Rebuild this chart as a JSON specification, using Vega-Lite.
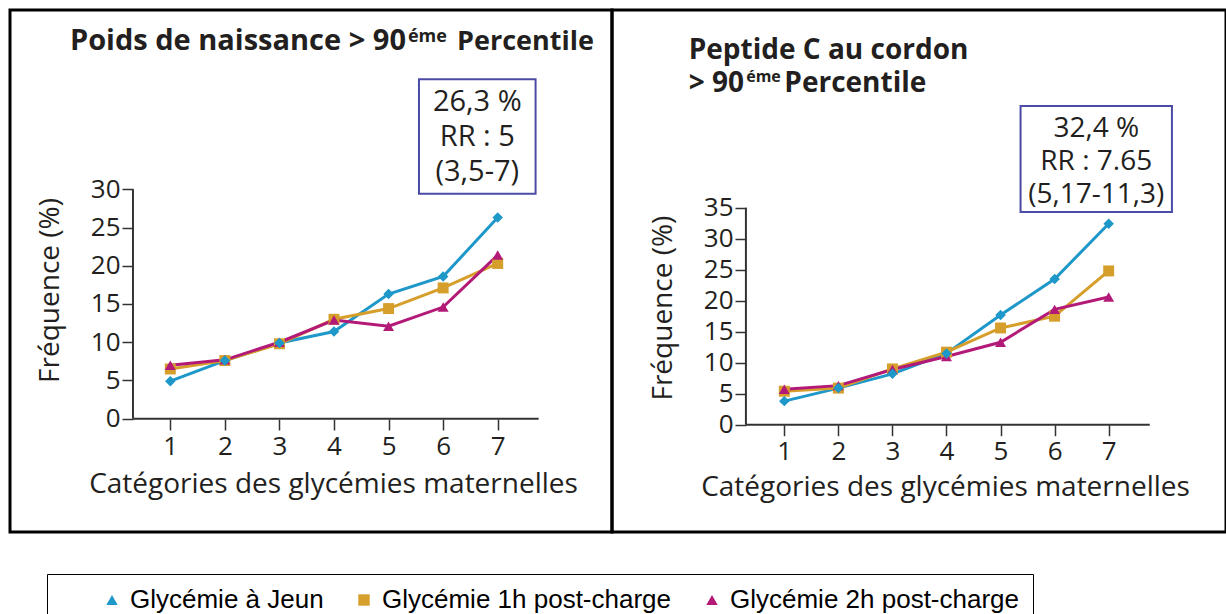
{
  "$schema": "https://vega.github.io/schema/vega-lite/v6.json",
  "padding": {"left": 8, "top": 8, "right": 0, "bottom": 0},
  "background": "white",
  "spacing": 0,
  "bounds": "flush",
  "config": {
    "font": "Open Sans",
    "view": {"stroke": "black", "strokeWidth": 3},
    "axis": {"grid": false, "domain": false, "tickColor": "#333333", "tickWidth": 1.5, "tickSize": 11, "labelFont": "Open Sans", "labelFontSize": 26, "labelColor": "#231f20", "titleFont": "Open Sans", "titleFontSize": 28, "titleFontWeight": "normal", "titleColor": "#231f20", "labelFlush": false, "labelOverlap": false},
    "legend": {"orient": "none", "legendX": 37, "legendY": 564, "direction": "horizontal", "titleOrient": "left", "titleFontSize": 1, "titlePadding": 39, "padding": 13, "strokeColor": "black", "labelFont": "Liberation Sans", "labelFontSize": 26, "labelColor": "black", "symbolSize": 130, "symbolStrokeWidth": 0, "symbolOpacity": 1, "columnPadding": 27, "labelOffset": 5, "labelLimit": 400}
  },
  "datasets": {
    "poids": [
      {"cat": 1, "serie": "Glycémie à Jeun", "freq": 4.9},
      {"cat": 2, "serie": "Glycémie à Jeun", "freq": 7.6},
      {"cat": 3, "serie": "Glycémie à Jeun", "freq": 9.9},
      {"cat": 4, "serie": "Glycémie à Jeun", "freq": 11.4},
      {"cat": 5, "serie": "Glycémie à Jeun", "freq": 16.3},
      {"cat": 6, "serie": "Glycémie à Jeun", "freq": 18.6},
      {"cat": 7, "serie": "Glycémie à Jeun", "freq": 26.3},
      {"cat": 1, "serie": "Glycémie 1h post-charge", "freq": 6.5},
      {"cat": 2, "serie": "Glycémie 1h post-charge", "freq": 7.6},
      {"cat": 3, "serie": "Glycémie 1h post-charge", "freq": 9.8},
      {"cat": 4, "serie": "Glycémie 1h post-charge", "freq": 13.0},
      {"cat": 5, "serie": "Glycémie 1h post-charge", "freq": 14.4},
      {"cat": 6, "serie": "Glycémie 1h post-charge", "freq": 17.1},
      {"cat": 7, "serie": "Glycémie 1h post-charge", "freq": 20.3},
      {"cat": 1, "serie": "Glycémie 2h post-charge", "freq": 7.0},
      {"cat": 2, "serie": "Glycémie 2h post-charge", "freq": 7.7},
      {"cat": 3, "serie": "Glycémie 2h post-charge", "freq": 10.0},
      {"cat": 4, "serie": "Glycémie 2h post-charge", "freq": 12.9},
      {"cat": 5, "serie": "Glycémie 2h post-charge", "freq": 12.1},
      {"cat": 6, "serie": "Glycémie 2h post-charge", "freq": 14.6},
      {"cat": 7, "serie": "Glycémie 2h post-charge", "freq": 21.4}
    ],
    "peptide": [
      {"cat": 1, "serie": "Glycémie à Jeun", "freq": 3.8},
      {"cat": 2, "serie": "Glycémie à Jeun", "freq": 5.9},
      {"cat": 3, "serie": "Glycémie à Jeun", "freq": 8.2},
      {"cat": 4, "serie": "Glycémie à Jeun", "freq": 11.5},
      {"cat": 5, "serie": "Glycémie à Jeun", "freq": 17.7},
      {"cat": 6, "serie": "Glycémie à Jeun", "freq": 23.5},
      {"cat": 7, "serie": "Glycémie à Jeun", "freq": 32.4},
      {"cat": 1, "serie": "Glycémie 1h post-charge", "freq": 5.4},
      {"cat": 2, "serie": "Glycémie 1h post-charge", "freq": 5.9},
      {"cat": 3, "serie": "Glycémie 1h post-charge", "freq": 9.0},
      {"cat": 4, "serie": "Glycémie 1h post-charge", "freq": 11.7},
      {"cat": 5, "serie": "Glycémie 1h post-charge", "freq": 15.6},
      {"cat": 6, "serie": "Glycémie 1h post-charge", "freq": 17.5},
      {"cat": 7, "serie": "Glycémie 1h post-charge", "freq": 24.8},
      {"cat": 1, "serie": "Glycémie 2h post-charge", "freq": 5.7},
      {"cat": 2, "serie": "Glycémie 2h post-charge", "freq": 6.3},
      {"cat": 3, "serie": "Glycémie 2h post-charge", "freq": 8.9},
      {"cat": 4, "serie": "Glycémie 2h post-charge", "freq": 11.0},
      {"cat": 5, "serie": "Glycémie 2h post-charge", "freq": 13.3},
      {"cat": 6, "serie": "Glycémie 2h post-charge", "freq": 18.6},
      {"cat": 7, "serie": "Glycémie 2h post-charge", "freq": 20.6}
    ]
  },
  "hconcat": [
    {
      "width": 602,
      "height": 522,
      "layer": [
        {"data": {"name": "poids"}, "mark": {"type": "line", "strokeWidth": 3},
         "encoding": {
           "x": {"field": "cat", "type": "quantitative", "scale": {"domain": [-1.9375, 9.0945], "nice": false, "zero": false}, "axis": {"values": [1, 2, 3, 4, 5, 6, 7], "offset": -113, "title": "Catégories des glycémies maternelles", "titleX": 323, "titleY": 73, "titleAlign": "center", "titleBaseline": "alphabetic", "labelPadding": 3}},
           "y": {"field": "freq", "type": "quantitative", "scale": {"domain": [-14.82, 53.45], "nice": false, "zero": false}, "axis": {"values": [0, 5, 10, 15, 20, 25, 30], "offset": -123, "title": "Fréquence (%)", "titleX": -74.5, "titleY": 280, "titleAngle": 270, "titleAlign": "center", "titleBaseline": "alphabetic", "labelPadding": 2}},
           "color": {"field": "serie", "type": "nominal", "scale": {"domain": ["Glycémie à Jeun", "Glycémie 1h post-charge", "Glycémie 2h post-charge"], "range": ["#1e97c9", "#d69e2a", "#b31a78"]}, "legend": {"title": " "}}
         }},
        {"data": {"name": "poids"}, "transform": [{"filter": "datum.serie !== 'Glycémie à Jeun'"}],
         "mark": {"type": "point", "filled": true, "size": 120, "opacity": 1},
         "encoding": {
           "x": {"field": "cat", "type": "quantitative", "scale": {"domain": [-1.9375, 9.0945], "nice": false, "zero": false}, "axis": {"values": [1, 2, 3, 4, 5, 6, 7], "offset": -113, "title": "Catégories des glycémies maternelles", "titleX": 323, "titleY": 73, "titleAlign": "center", "titleBaseline": "alphabetic", "labelPadding": 3}},
           "y": {"field": "freq", "type": "quantitative", "scale": {"domain": [-14.82, 53.45], "nice": false, "zero": false}, "axis": {"values": [0, 5, 10, 15, 20, 25, 30], "offset": -123, "title": "Fréquence (%)", "titleX": -74.5, "titleY": 280, "titleAngle": 270, "titleAlign": "center", "titleBaseline": "alphabetic", "labelPadding": 2}},
           "color": {"field": "serie", "type": "nominal", "scale": {"domain": ["Glycémie à Jeun", "Glycémie 1h post-charge", "Glycémie 2h post-charge"], "range": ["#1e97c9", "#d69e2a", "#b31a78"]}, "legend": {"title": " "}},
           "shape": {"field": "serie", "type": "nominal", "scale": {"domain": ["Glycémie à Jeun", "Glycémie 1h post-charge", "Glycémie 2h post-charge"], "range": ["triangle-up", "square", "triangle-up"]}, "legend": {"title": " "}}
         }},
        {"data": {"name": "poids"}, "transform": [{"filter": "datum.serie === 'Glycémie à Jeun'"}],
         "mark": {"type": "point", "filled": true, "shape": "diamond", "size": 110, "opacity": 1},
         "encoding": {
           "x": {"field": "cat", "type": "quantitative", "scale": {"domain": [-1.9375, 9.0945], "nice": false, "zero": false}, "axis": {"values": [1, 2, 3, 4, 5, 6, 7], "offset": -113, "title": "Catégories des glycémies maternelles", "titleX": 323, "titleY": 73, "titleAlign": "center", "titleBaseline": "alphabetic", "labelPadding": 3}},
           "y": {"field": "freq", "type": "quantitative", "scale": {"domain": [-14.82, 53.45], "nice": false, "zero": false}, "axis": {"values": [0, 5, 10, 15, 20, 25, 30], "offset": -123, "title": "Fréquence (%)", "titleX": -74.5, "titleY": 280, "titleAngle": 270, "titleAlign": "center", "titleBaseline": "alphabetic", "labelPadding": 2}},
           "color": {"field": "serie", "type": "nominal", "scale": {"domain": ["Glycémie à Jeun", "Glycémie 1h post-charge", "Glycémie 2h post-charge"], "range": ["#1e97c9", "#d69e2a", "#b31a78"]}, "legend": {"title": " "}}
         }},
        {"data": {"values": [{}]}, "mark": {"type": "rule", "color": "#333333", "strokeWidth": 2},
         "encoding": {
           "x": {"datum": 0.316, "type": "quantitative", "scale": {"domain": [-1.9375, 9.0945], "nice": false, "zero": false}, "axis": {"values": [1, 2, 3, 4, 5, 6, 7], "offset": -113, "title": "Catégories des glycémies maternelles", "titleX": 323, "titleY": 73, "titleAlign": "center", "titleBaseline": "alphabetic", "labelPadding": 3}},
           "y": {"datum": 0, "type": "quantitative", "scale": {"domain": [-14.82, 53.45], "nice": false, "zero": false}, "axis": {"values": [0, 5, 10, 15, 20, 25, 30], "offset": -123, "title": "Fréquence (%)", "titleX": -74.5, "titleY": 280, "titleAngle": 270, "titleAlign": "center", "titleBaseline": "alphabetic", "labelPadding": 2}},
           "y2": {"datum": 30}}},
        {"data": {"values": [{}]}, "mark": {"type": "rule", "color": "#333333", "strokeWidth": 2},
         "encoding": {
           "x": {"datum": 0.316, "type": "quantitative", "scale": {"domain": [-1.9375, 9.0945], "nice": false, "zero": false}, "axis": {"values": [1, 2, 3, 4, 5, 6, 7], "offset": -113, "title": "Catégories des glycémies maternelles", "titleX": 323, "titleY": 73, "titleAlign": "center", "titleBaseline": "alphabetic", "labelPadding": 3}},
           "x2": {"datum": 7.75},
           "y": {"datum": 0, "type": "quantitative", "scale": {"domain": [-14.82, 53.45], "nice": false, "zero": false}, "axis": {"values": [0, 5, 10, 15, 20, 25, 30], "offset": -123, "title": "Fréquence (%)", "titleX": -74.5, "titleY": 280, "titleAngle": 270, "titleAlign": "center", "titleBaseline": "alphabetic", "labelPadding": 2}}}},
        {"data": {"values": [{}]}, "mark": {"type": "rect", "fill": "white", "stroke": "#4b4ba6", "strokeWidth": 2},
         "encoding": {
           "x": {"datum": 5.557, "type": "quantitative", "scale": {"domain": [-1.9375, 9.0945], "nice": false, "zero": false}, "axis": {"values": [1, 2, 3, 4, 5, 6, 7], "offset": -113, "title": "Catégories des glycémies maternelles", "titleX": 323, "titleY": 73, "titleAlign": "center", "titleBaseline": "alphabetic", "labelPadding": 3}},
           "x2": {"datum": 7.694},
           "y": {"datum": 29.42, "type": "quantitative", "scale": {"domain": [-14.82, 53.45], "nice": false, "zero": false}, "axis": {"values": [0, 5, 10, 15, 20, 25, 30], "offset": -123, "title": "Fréquence (%)", "titleX": -74.5, "titleY": 280, "titleAngle": 270, "titleAlign": "center", "titleBaseline": "alphabetic", "labelPadding": 2}},
           "y2": {"datum": 44.38}}},
        {"data": {"values": [{}]}, "mark": {"type": "text", "text": ["26,3 %", "RR : 5", "(3,5-7)"], "font": "Open Sans", "fontSize": 29, "lineHeight": 35, "align": "center", "baseline": "middle", "color": "#231f20"},
         "encoding": {
           "x": {"datum": 6.626, "type": "quantitative", "scale": {"domain": [-1.9375, 9.0945], "nice": false, "zero": false}, "axis": {"values": [1, 2, 3, 4, 5, 6, 7], "offset": -113, "title": "Catégories des glycémies maternelles", "titleX": 323, "titleY": 73, "titleAlign": "center", "titleBaseline": "alphabetic", "labelPadding": 3}},
           "y": {"datum": 41.41, "type": "quantitative", "scale": {"domain": [-14.82, 53.45], "nice": false, "zero": false}, "axis": {"values": [0, 5, 10, 15, 20, 25, 30], "offset": -123, "title": "Fréquence (%)", "titleX": -74.5, "titleY": 280, "titleAngle": 270, "titleAlign": "center", "titleBaseline": "alphabetic", "labelPadding": 2}}}},
        {"data": {"values": [{}]}, "mark": {"type": "text", "text": "Poids de naissance > 90", "font": "Open Sans", "fontWeight": "bold", "fontSize": 29, "align": "right", "baseline": "alphabetic", "color": "#231f20"},
         "encoding": {
           "x": {"datum": 5.319, "type": "quantitative", "scale": {"domain": [-1.9375, 9.0945], "nice": false, "zero": false}, "axis": {"values": [1, 2, 3, 4, 5, 6, 7], "offset": -113, "title": "Catégories des glycémies maternelles", "titleX": 323, "titleY": 73, "titleAlign": "center", "titleBaseline": "alphabetic", "labelPadding": 3}},
           "y": {"datum": 48.2, "type": "quantitative", "scale": {"domain": [-14.82, 53.45], "nice": false, "zero": false}, "axis": {"values": [0, 5, 10, 15, 20, 25, 30], "offset": -123, "title": "Fréquence (%)", "titleX": -74.5, "titleY": 280, "titleAngle": 270, "titleAlign": "center", "titleBaseline": "alphabetic", "labelPadding": 2}}}},
        {"data": {"values": [{}]}, "mark": {"type": "text", "text": "éme", "font": "Open Sans", "fontWeight": "bold", "fontSize": 18, "align": "left", "baseline": "alphabetic", "color": "#231f20"},
         "encoding": {
           "x": {"datum": 5.355, "type": "quantitative", "scale": {"domain": [-1.9375, 9.0945], "nice": false, "zero": false}, "axis": {"values": [1, 2, 3, 4, 5, 6, 7], "offset": -113, "title": "Catégories des glycémies maternelles", "titleX": 323, "titleY": 73, "titleAlign": "center", "titleBaseline": "alphabetic", "labelPadding": 3}},
           "y": {"datum": 49.33, "type": "quantitative", "scale": {"domain": [-14.82, 53.45], "nice": false, "zero": false}, "axis": {"values": [0, 5, 10, 15, 20, 25, 30], "offset": -123, "title": "Fréquence (%)", "titleX": -74.5, "titleY": 280, "titleAngle": 270, "titleAlign": "center", "titleBaseline": "alphabetic", "labelPadding": 2}}}},
        {"data": {"values": [{}]}, "mark": {"type": "text", "text": "Percentile", "font": "Open Sans", "fontWeight": "bold", "fontSize": 27, "align": "left", "baseline": "alphabetic", "color": "#231f20"},
         "encoding": {
           "x": {"datum": 6.254, "type": "quantitative", "scale": {"domain": [-1.9375, 9.0945], "nice": false, "zero": false}, "axis": {"values": [1, 2, 3, 4, 5, 6, 7], "offset": -113, "title": "Catégories des glycémies maternelles", "titleX": 323, "titleY": 73, "titleAlign": "center", "titleBaseline": "alphabetic", "labelPadding": 3}},
           "y": {"datum": 48.2, "type": "quantitative", "scale": {"domain": [-14.82, 53.45], "nice": false, "zero": false}, "axis": {"values": [0, 5, 10, 15, 20, 25, 30], "offset": -123, "title": "Fréquence (%)", "titleX": -74.5, "titleY": 280, "titleAngle": 270, "titleAlign": "center", "titleBaseline": "alphabetic", "labelPadding": 2}}}}
      ]
    },
    {
      "width": 614,
      "height": 522,
      "layer": [
        {"data": {"name": "peptide"}, "mark": {"type": "line", "strokeWidth": 3},
         "encoding": {
           "x": {"field": "cat", "type": "quantitative", "scale": {"domain": [-2.187, 9.17], "nice": false, "zero": false}, "axis": {"values": [1, 2, 3, 4, 5, 6, 7], "offset": -107.3, "title": "Catégories des glycémies maternelles", "titleX": 333, "titleY": 70.8, "titleAlign": "center", "titleBaseline": "alphabetic", "labelPadding": 3}},
           "y": {"field": "freq", "type": "quantitative", "scale": {"domain": [-17.31, 66.89], "nice": false, "zero": false}, "axis": {"values": [0, 5, 10, 15, 20, 25, 30, 35], "offset": -134, "title": "Fréquence (%)", "titleX": -74.5, "titleY": 297.6, "titleAngle": 270, "titleAlign": "center", "titleBaseline": "alphabetic", "labelPadding": 2}},
           "color": {"field": "serie", "type": "nominal", "scale": {"domain": ["Glycémie à Jeun", "Glycémie 1h post-charge", "Glycémie 2h post-charge"], "range": ["#1e97c9", "#d69e2a", "#b31a78"]}, "legend": {"title": " "}}
         }},
        {"data": {"name": "peptide"}, "transform": [{"filter": "datum.serie !== 'Glycémie à Jeun'"}],
         "mark": {"type": "point", "filled": true, "size": 120, "opacity": 1},
         "encoding": {
           "x": {"field": "cat", "type": "quantitative", "scale": {"domain": [-2.187, 9.17], "nice": false, "zero": false}, "axis": {"values": [1, 2, 3, 4, 5, 6, 7], "offset": -107.3, "title": "Catégories des glycémies maternelles", "titleX": 333, "titleY": 70.8, "titleAlign": "center", "titleBaseline": "alphabetic", "labelPadding": 3}},
           "y": {"field": "freq", "type": "quantitative", "scale": {"domain": [-17.31, 66.89], "nice": false, "zero": false}, "axis": {"values": [0, 5, 10, 15, 20, 25, 30, 35], "offset": -134, "title": "Fréquence (%)", "titleX": -74.5, "titleY": 297.6, "titleAngle": 270, "titleAlign": "center", "titleBaseline": "alphabetic", "labelPadding": 2}},
           "color": {"field": "serie", "type": "nominal", "scale": {"domain": ["Glycémie à Jeun", "Glycémie 1h post-charge", "Glycémie 2h post-charge"], "range": ["#1e97c9", "#d69e2a", "#b31a78"]}, "legend": {"title": " "}},
           "shape": {"field": "serie", "type": "nominal", "scale": {"domain": ["Glycémie à Jeun", "Glycémie 1h post-charge", "Glycémie 2h post-charge"], "range": ["triangle-up", "square", "triangle-up"]}, "legend": {"title": " "}}
         }},
        {"data": {"name": "peptide"}, "transform": [{"filter": "datum.serie === 'Glycémie à Jeun'"}],
         "mark": {"type": "point", "filled": true, "shape": "diamond", "size": 110, "opacity": 1},
         "encoding": {
           "x": {"field": "cat", "type": "quantitative", "scale": {"domain": [-2.187, 9.17], "nice": false, "zero": false}, "axis": {"values": [1, 2, 3, 4, 5, 6, 7], "offset": -107.3, "title": "Catégories des glycémies maternelles", "titleX": 333, "titleY": 70.8, "titleAlign": "center", "titleBaseline": "alphabetic", "labelPadding": 3}},
           "y": {"field": "freq", "type": "quantitative", "scale": {"domain": [-17.31, 66.89], "nice": false, "zero": false}, "axis": {"values": [0, 5, 10, 15, 20, 25, 30, 35], "offset": -134, "title": "Fréquence (%)", "titleX": -74.5, "titleY": 297.6, "titleAngle": 270, "titleAlign": "center", "titleBaseline": "alphabetic", "labelPadding": 2}},
           "color": {"field": "serie", "type": "nominal", "scale": {"domain": ["Glycémie à Jeun", "Glycémie 1h post-charge", "Glycémie 2h post-charge"], "range": ["#1e97c9", "#d69e2a", "#b31a78"]}, "legend": {"title": " "}}
         }},
        {"data": {"values": [{}]}, "mark": {"type": "rule", "color": "#333333", "strokeWidth": 2},
         "encoding": {
           "x": {"datum": 0.29, "type": "quantitative", "scale": {"domain": [-2.187, 9.17], "nice": false, "zero": false}, "axis": {"values": [1, 2, 3, 4, 5, 6, 7], "offset": -107.3, "title": "Catégories des glycémies maternelles", "titleX": 333, "titleY": 70.8, "titleAlign": "center", "titleBaseline": "alphabetic", "labelPadding": 3}},
           "y": {"datum": 0, "type": "quantitative", "scale": {"domain": [-17.31, 66.89], "nice": false, "zero": false}, "axis": {"values": [0, 5, 10, 15, 20, 25, 30, 35], "offset": -134, "title": "Fréquence (%)", "titleX": -74.5, "titleY": 297.6, "titleAngle": 270, "titleAlign": "center", "titleBaseline": "alphabetic", "labelPadding": 2}},
           "y2": {"datum": 35}}},
        {"data": {"values": [{}]}, "mark": {"type": "rule", "color": "#333333", "strokeWidth": 2},
         "encoding": {
           "x": {"datum": 0.29, "type": "quantitative", "scale": {"domain": [-2.187, 9.17], "nice": false, "zero": false}, "axis": {"values": [1, 2, 3, 4, 5, 6, 7], "offset": -107.3, "title": "Catégories des glycémies maternelles", "titleX": 333, "titleY": 70.8, "titleAlign": "center", "titleBaseline": "alphabetic", "labelPadding": 3}},
           "x2": {"datum": 7.76},
           "y": {"datum": 0, "type": "quantitative", "scale": {"domain": [-17.31, 66.89], "nice": false, "zero": false}, "axis": {"values": [0, 5, 10, 15, 20, 25, 30, 35], "offset": -134, "title": "Fréquence (%)", "titleX": -74.5, "titleY": 297.6, "titleAngle": 270, "titleAlign": "center", "titleBaseline": "alphabetic", "labelPadding": 2}}}},
        {"data": {"values": [{}]}, "mark": {"type": "rect", "fill": "white", "stroke": "#4b4ba6", "strokeWidth": 2},
         "encoding": {
           "x": {"datum": 5.37, "type": "quantitative", "scale": {"domain": [-2.187, 9.17], "nice": false, "zero": false}, "axis": {"values": [1, 2, 3, 4, 5, 6, 7], "offset": -107.3, "title": "Catégories des glycémies maternelles", "titleX": 333, "titleY": 70.8, "titleAlign": "center", "titleBaseline": "alphabetic", "labelPadding": 3}},
           "x2": {"datum": 8.17},
           "y": {"datum": 34.31, "type": "quantitative", "scale": {"domain": [-17.31, 66.89], "nice": false, "zero": false}, "axis": {"values": [0, 5, 10, 15, 20, 25, 30, 35], "offset": -134, "title": "Fréquence (%)", "titleX": -74.5, "titleY": 297.6, "titleAngle": 270, "titleAlign": "center", "titleBaseline": "alphabetic", "labelPadding": 2}},
           "y2": {"datum": 51.4}}},
        {"data": {"values": [{}]}, "mark": {"type": "text", "text": ["32,4 %", "RR : 7.65", "(5,17-11,3)"], "font": "Open Sans", "fontSize": 28, "lineHeight": 33, "align": "center", "baseline": "middle", "color": "#231f20"},
         "encoding": {
           "x": {"datum": 6.77, "type": "quantitative", "scale": {"domain": [-2.187, 9.17], "nice": false, "zero": false}, "axis": {"values": [1, 2, 3, 4, 5, 6, 7], "offset": -107.3, "title": "Catégories des glycémies maternelles", "titleX": 333, "titleY": 70.8, "titleAlign": "center", "titleBaseline": "alphabetic", "labelPadding": 3}},
           "y": {"datum": 47.74, "type": "quantitative", "scale": {"domain": [-17.31, 66.89], "nice": false, "zero": false}, "axis": {"values": [0, 5, 10, 15, 20, 25, 30, 35], "offset": -134, "title": "Fréquence (%)", "titleX": -74.5, "titleY": 297.6, "titleAngle": 270, "titleAlign": "center", "titleBaseline": "alphabetic", "labelPadding": 2}}}},
        {"data": {"values": [{}]}, "mark": {"type": "text", "text": "Peptide C au cordon", "font": "Open Sans", "fontWeight": "bold", "fontSize": 28, "align": "left", "baseline": "alphabetic", "color": "#231f20"},
         "encoding": {
           "x": {"datum": -0.768, "type": "quantitative", "scale": {"domain": [-2.187, 9.17], "nice": false, "zero": false}, "axis": {"values": [1, 2, 3, 4, 5, 6, 7], "offset": -107.3, "title": "Catégories des glycémies maternelles", "titleX": 333, "titleY": 70.8, "titleAlign": "center", "titleBaseline": "alphabetic", "labelPadding": 3}},
           "y": {"datum": 59.03, "type": "quantitative", "scale": {"domain": [-17.31, 66.89], "nice": false, "zero": false}, "axis": {"values": [0, 5, 10, 15, 20, 25, 30, 35], "offset": -134, "title": "Fréquence (%)", "titleX": -74.5, "titleY": 297.6, "titleAngle": 270, "titleAlign": "center", "titleBaseline": "alphabetic", "labelPadding": 2}}}},
        {"data": {"values": [{}]}, "mark": {"type": "text", "text": "> 90", "font": "Open Sans", "fontWeight": "bold", "fontSize": 28, "align": "left", "baseline": "alphabetic", "color": "#231f20"},
         "encoding": {
           "x": {"datum": -0.768, "type": "quantitative", "scale": {"domain": [-2.187, 9.17], "nice": false, "zero": false}, "axis": {"values": [1, 2, 3, 4, 5, 6, 7], "offset": -107.3, "title": "Catégories des glycémies maternelles", "titleX": 333, "titleY": 70.8, "titleAlign": "center", "titleBaseline": "alphabetic", "labelPadding": 3}},
           "y": {"datum": 53.66, "type": "quantitative", "scale": {"domain": [-17.31, 66.89], "nice": false, "zero": false}, "axis": {"values": [0, 5, 10, 15, 20, 25, 30, 35], "offset": -134, "title": "Fréquence (%)", "titleX": -74.5, "titleY": 297.6, "titleAngle": 270, "titleAlign": "center", "titleBaseline": "alphabetic", "labelPadding": 2}}}},
        {"data": {"values": [{}]}, "mark": {"type": "text", "text": "éme", "font": "Open Sans", "fontWeight": "bold", "fontSize": 16, "align": "left", "baseline": "alphabetic", "color": "#231f20"},
         "encoding": {
           "x": {"datum": 0.295, "type": "quantitative", "scale": {"domain": [-2.187, 9.17], "nice": false, "zero": false}, "axis": {"values": [1, 2, 3, 4, 5, 6, 7], "offset": -107.3, "title": "Catégories des glycémies maternelles", "titleX": 333, "titleY": 70.8, "titleAlign": "center", "titleBaseline": "alphabetic", "labelPadding": 3}},
           "y": {"datum": 55.27, "type": "quantitative", "scale": {"domain": [-17.31, 66.89], "nice": false, "zero": false}, "axis": {"values": [0, 5, 10, 15, 20, 25, 30, 35], "offset": -134, "title": "Fréquence (%)", "titleX": -74.5, "titleY": 297.6, "titleAngle": 270, "titleAlign": "center", "titleBaseline": "alphabetic", "labelPadding": 2}}}},
        {"data": {"values": [{}]}, "mark": {"type": "text", "text": "Percentile", "font": "Open Sans", "fontWeight": "bold", "fontSize": 28, "align": "left", "baseline": "alphabetic", "color": "#231f20"},
         "encoding": {
           "x": {"datum": 1.0, "type": "quantitative", "scale": {"domain": [-2.187, 9.17], "nice": false, "zero": false}, "axis": {"values": [1, 2, 3, 4, 5, 6, 7], "offset": -107.3, "title": "Catégories des glycémies maternelles", "titleX": 333, "titleY": 70.8, "titleAlign": "center", "titleBaseline": "alphabetic", "labelPadding": 3}},
           "y": {"datum": 53.66, "type": "quantitative", "scale": {"domain": [-17.31, 66.89], "nice": false, "zero": false}, "axis": {"values": [0, 5, 10, 15, 20, 25, 30, 35], "offset": -134, "title": "Fréquence (%)", "titleX": -74.5, "titleY": 297.6, "titleAngle": 270, "titleAlign": "center", "titleBaseline": "alphabetic", "labelPadding": 2}}}}
      ]
    }
  ]
}
